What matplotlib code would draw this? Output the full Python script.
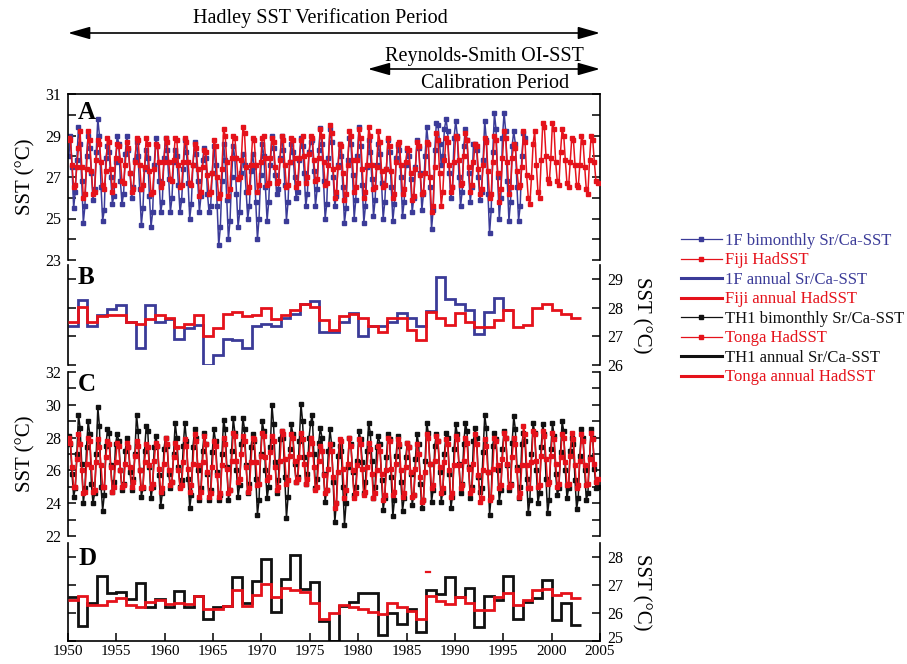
import numpy as np
import matplotlib
matplotlib.use("Agg")
import matplotlib.pyplot as plt
import matplotlib.transforms as mtransforms
from matplotlib.lines import Line2D

plt.rcParams['font.family'] = ['Liberation Serif', 'DejaVu Serif']

BLUE = '#3b3b98'
RED = '#e5121b'
BLACK = '#111111'

START_YEAR = 1950

# ---- Bimonthly SST (6 values per year, Jan-Feb ... Nov-Dec) ----
coral_1f_bimonthly = [
    [28.0, 29.0, 27.5, 25.5, 26.3, 27.8],
    [29.4, 28.6, 26.8, 24.8, 25.6, 28.0],
    [29.0, 28.4, 27.2, 25.9, 26.4, 28.2],
    [29.8, 29.0, 26.5, 24.9, 25.4, 27.9],
    [28.5, 28.2, 27.0, 25.7, 26.1, 27.7],
    [29.0, 28.6, 26.8, 25.7, 26.2, 28.1],
    [29.0, 28.3, 27.2, 26.0, 26.5, 27.8],
    [28.7, 28.0, 26.4, 24.7, 25.5, 27.4],
    [28.3, 27.9, 26.1, 24.6, 25.3, 27.6],
    [28.9, 28.5, 26.8, 25.3, 25.8, 27.9],
    [28.9, 28.3, 26.9, 25.3, 26.0, 27.7],
    [28.3, 28.0, 26.6, 25.3, 25.9, 27.4],
    [28.8, 28.2, 26.7, 25.0, 25.7, 27.6],
    [28.7, 28.1, 26.8, 25.3, 26.1, 27.8],
    [28.4, 27.9, 26.2, 25.3, 25.6, 27.2],
    [28.5, 27.6, 25.6, 23.7, 24.6, 26.8],
    [28.6, 27.8, 25.9, 24.0, 24.9, 27.0],
    [28.5, 27.9, 26.2, 24.6, 25.3, 27.2],
    [28.1, 27.6, 26.3, 25.0, 25.6, 27.3],
    [28.1, 27.5, 25.8, 24.0, 25.0, 27.1],
    [28.6, 28.0, 26.5, 24.9, 25.8, 27.6],
    [29.0, 28.4, 27.1, 26.2, 26.4, 27.9],
    [29.0, 28.3, 26.6, 24.9, 25.8, 27.7],
    [28.6, 28.2, 27.0, 26.0, 26.3, 27.8],
    [28.9, 28.5, 27.2, 25.6, 26.2, 28.2],
    [28.7, 28.8, 27.3, 25.6, 26.4, 28.3],
    [29.35, 28.6, 26.8, 25.0, 25.7, 27.9],
    [29.3, 28.7, 27.0, 25.6, 26.1, 27.6],
    [28.6, 28.0, 26.5, 24.8, 25.5, 27.8],
    [28.9, 28.6, 27.1, 25.0, 25.9, 28.0],
    [29.4, 28.5, 26.6, 24.8, 25.6, 27.5],
    [28.8, 28.2, 26.9, 25.1, 25.9, 27.6],
    [28.6, 28.1, 26.7, 25.0, 25.8, 27.4],
    [28.8, 28.2, 26.5, 24.9, 25.7, 27.9],
    [28.5, 28.3, 27.0, 25.1, 25.8, 27.6],
    [28.3, 28.0, 26.9, 25.3, 26.0, 27.5],
    [28.8, 28.4, 27.2, 25.4, 26.2, 28.0],
    [29.4, 28.6, 26.5, 24.5, 25.4, 28.3],
    [29.6, 29.5, 28.6, 27.6, 28.0, 29.3],
    [29.8, 29.2, 27.2, 26.0, 26.5, 28.9],
    [29.7, 29.0, 27.0, 25.6, 26.3, 28.5],
    [29.3, 28.8, 27.2, 25.8, 26.5, 28.6],
    [28.6, 28.3, 27.0, 25.9, 26.3, 27.8],
    [29.7, 28.8, 26.2, 24.3, 25.4, 28.2],
    [30.1, 29.3, 27.0, 25.0, 26.0, 28.9],
    [30.1, 29.2, 26.8, 24.9, 25.8, 28.5],
    [29.2, 28.6, 26.5, 24.9, 25.6, 28.0],
    [29.1, 28.9],
]

fiji_hadsst = [
    [28.9, 28.8, 27.6, 26.5, 26.6, 27.5],
    [28.4, 29.2, 27.5, 26.0, 26.2, 27.4],
    [29.2, 28.8, 27.3, 26.2, 26.3, 27.8],
    [28.8, 28.6, 27.7, 26.6, 26.4, 27.3],
    [28.9, 28.7, 27.4, 26.3, 26.6, 27.9],
    [28.6, 28.5, 27.8, 26.8, 26.7, 27.6],
    [28.7, 28.4, 27.2, 26.3, 26.4, 27.7],
    [28.9, 28.8, 27.6, 26.4, 26.6, 27.5],
    [28.9, 28.6, 27.3, 26.2, 26.3, 27.4],
    [28.6, 28.5, 27.7, 26.5, 26.7, 27.7],
    [28.9, 28.7, 27.7, 26.9, 26.8, 27.8],
    [28.9, 28.8, 27.6, 26.5, 26.6, 27.7],
    [28.9, 28.7, 27.7, 26.7, 26.6, 27.6],
    [28.6, 28.4, 27.4, 26.1, 26.3, 27.5],
    [28.3, 28.2, 27.1, 26.2, 26.3, 27.2],
    [28.8, 28.5, 27.0, 26.0, 26.2, 27.4],
    [29.3, 29.0, 27.7, 26.1, 26.4, 27.9],
    [29.0, 28.9, 27.9, 26.9, 27.0, 27.8],
    [29.4, 29.1, 27.5, 26.3, 26.5, 27.6],
    [28.9, 28.8, 27.6, 26.3, 26.6, 27.7],
    [28.9, 29.0, 27.9, 26.6, 26.7, 27.9],
    [28.9, 28.7, 27.5, 26.7, 26.8, 27.8],
    [29.0, 28.8, 27.6, 26.5, 26.6, 27.7],
    [28.9, 28.8, 27.9, 26.5, 26.7, 27.9],
    [28.8, 29.0, 28.0, 26.7, 27.0, 28.1],
    [29.0, 28.9, 27.8, 26.8, 26.9, 27.9],
    [29.3, 29.0, 27.7, 26.6, 26.7, 27.6],
    [29.5, 29.1, 27.4, 26.0, 26.3, 27.5],
    [28.6, 28.5, 27.2, 25.9, 26.2, 27.6],
    [29.2, 29.0, 27.8, 26.3, 26.5, 27.8],
    [29.3, 28.9, 27.4, 26.0, 26.3, 27.6],
    [29.4, 29.0, 27.6, 26.4, 26.5, 27.5],
    [29.2, 28.7, 27.3, 26.5, 26.6, 27.4],
    [28.9, 28.5, 27.3, 26.0, 26.2, 27.7],
    [28.6, 28.7, 27.6, 26.2, 26.4, 27.7],
    [28.4, 28.3, 27.2, 25.9, 26.1, 27.4],
    [28.7, 28.5, 27.1, 26.2, 26.3, 27.2],
    [28.7, 28.6, 27.0, 25.3, 25.6, 27.5],
    [29.1, 28.8, 27.2, 25.6, 26.3, 27.8],
    [28.9, 28.7, 27.6, 26.3, 26.5, 27.7],
    [29.0, 28.9, 27.8, 26.6, 26.7, 28.0],
    [29.1, 28.8, 27.5, 26.3, 26.6, 27.7],
    [28.6, 28.5, 27.4, 26.2, 26.4, 27.6],
    [28.9, 28.7, 27.3, 26.0, 26.2, 27.7],
    [29.0, 28.8, 27.2, 25.8, 26.4, 27.9],
    [29.2, 28.9, 27.7, 26.2, 26.5, 27.9],
    [28.6, 28.4, 27.3, 26.5, 26.6, 27.5],
    [29.2, 28.7, 27.1, 26.0, 25.7, 27.0],
    [28.6, 29.2, 27.6, 26.3, 26.0, 27.8],
    [29.6, 29.4, 28.0, 26.9, 26.7, 27.9],
    [29.6, 29.3, 27.7, 26.8, 26.6, 28.2],
    [29.3, 29.0, 27.8, 26.7, 26.5, 27.7],
    [28.9, 28.8, 27.6, 26.6, 26.5, 27.6],
    [29.0, 28.7, 27.5, 26.4, 26.2, 27.8],
    [29.0, 28.8, 27.7, 26.8, 26.7],
]

th1_bimonthly = [
    [28.1, 27.6, 25.8, 24.4, 24.9, 27.0],
    [29.4, 28.6, 26.4, 24.0, 24.9, 27.4],
    [29.0, 28.2, 25.2, 24.0, 24.6, 27.0],
    [29.85, 28.7, 25.0, 23.55, 24.5, 27.5],
    [28.5, 28.3, 26.3, 24.7, 25.3, 27.6],
    [28.2, 27.8, 26.0, 24.8, 25.2, 27.2],
    [28.0, 27.4, 25.9, 24.8, 25.5, 27.0],
    [29.4, 28.4, 26.0, 24.4, 24.9, 27.2],
    [28.7, 28.4, 26.2, 24.3, 25.0, 27.4],
    [28.1, 27.5, 25.7, 23.8, 24.6, 27.3],
    [28.0, 27.5, 25.8, 24.9, 25.3, 27.0],
    [28.9, 28.0, 26.2, 25.0, 25.4, 27.5],
    [28.9, 27.8, 25.5, 23.7, 24.5, 27.4],
    [28.5, 28.0, 26.0, 24.2, 24.9, 27.2],
    [28.3, 27.6, 25.8, 24.2, 24.8, 27.1],
    [28.5, 27.8, 25.9, 24.2, 24.5, 27.0],
    [29.1, 28.5, 26.2, 24.2, 24.8, 27.2],
    [29.2, 28.3, 26.0, 24.4, 25.1, 27.6],
    [29.2, 28.5, 26.3, 24.6, 25.2, 27.4],
    [28.2, 27.8, 25.5, 23.3, 24.2, 27.0],
    [29.0, 28.4, 26.0, 24.3, 25.0, 27.4],
    [30.0, 28.8, 26.5, 24.6, 25.4, 27.9],
    [28.4, 28.0, 25.6, 23.1, 24.4, 27.3],
    [28.8, 28.2, 26.4, 25.3, 25.6, 27.8],
    [30.05, 29.0, 26.8, 25.2, 25.8, 28.0],
    [28.9, 29.4, 27.0, 24.9, 25.5, 27.7],
    [28.6, 28.0, 25.8, 24.1, 24.8, 27.2],
    [28.5, 27.6, 25.3, 22.85, 24.0, 26.9],
    [27.5, 27.2, 25.0, 22.7, 24.0, 26.2],
    [28.0, 27.6, 25.9, 24.5, 25.0, 26.6],
    [28.4, 27.9, 26.5, 24.6, 25.3, 27.2],
    [28.9, 28.3, 26.6, 24.3, 25.0, 27.4],
    [28.1, 27.6, 25.4, 23.6, 24.3, 26.8],
    [28.2, 27.9, 25.6, 23.2, 24.2, 26.9],
    [28.1, 27.5, 25.3, 23.55, 24.3, 26.8],
    [27.7, 27.4, 25.8, 23.9, 24.5, 26.7],
    [28.2, 27.6, 25.2, 23.7, 24.2, 26.6],
    [28.9, 28.3, 26.4, 24.1, 24.8, 27.5],
    [28.2, 27.8, 25.9, 24.1, 24.7, 27.0],
    [28.3, 28.0, 25.8, 23.7, 24.4, 27.3],
    [28.8, 28.2, 26.4, 24.6, 25.2, 27.6],
    [28.9, 28.4, 26.2, 24.3, 25.0, 27.8],
    [28.6, 28.0, 25.6, 24.7, 24.9, 27.1],
    [29.35, 28.6, 25.9, 23.3, 24.4, 27.5],
    [28.3, 27.9, 26.0, 24.1, 24.8, 27.3],
    [28.4, 28.0, 26.3, 24.8, 25.2, 27.7],
    [29.3, 28.5, 26.2, 24.3, 25.0, 27.6],
    [28.3, 27.8, 25.5, 23.4, 24.2, 27.0],
    [28.9, 28.3, 26.0, 24.0, 24.6, 27.4],
    [28.8, 28.2, 25.5, 23.4, 24.2, 27.3],
    [28.9, 28.1, 25.8, 24.5, 24.9, 27.1],
    [29.0, 28.4, 26.0, 24.3, 24.9, 27.2],
    [28.0, 27.6, 25.4, 23.65, 24.3, 26.9],
    [28.5, 28.0, 26.0, 24.2, 24.6, 26.8],
    [28.5, 28.0, 26.1, 24.9, 25.0],
]

tonga_hadsst = [
    [28.0, 27.7, 26.2, 25.0, 25.0, 26.7],
    [28.2, 27.6, 26.0, 24.6, 24.7, 26.4],
    [28.0, 27.8, 26.2, 24.7, 24.8, 26.5],
    [27.9, 27.4, 26.3, 25.0, 25.0, 26.8],
    [27.8, 27.6, 26.2, 24.7, 25.0, 26.5],
    [27.7, 27.5, 26.0, 25.0, 25.1, 26.4],
    [27.7, 27.4, 26.2, 25.0, 25.3, 26.9],
    [27.8, 27.5, 26.0, 24.9, 25.0, 26.5],
    [27.6, 27.4, 26.3, 24.9, 25.2, 26.6],
    [27.7, 27.5, 26.1, 24.7, 24.9, 26.4],
    [28.0, 27.6, 26.0, 25.1, 25.3, 26.8],
    [27.7, 27.4, 26.0, 24.9, 25.1, 26.5],
    [27.9, 27.5, 26.1, 24.7, 25.1, 26.4],
    [28.2, 27.8, 26.3, 24.4, 24.7, 26.5],
    [28.1, 27.6, 25.9, 24.4, 24.6, 26.2],
    [27.8, 27.5, 25.7, 24.4, 24.6, 26.3],
    [28.0, 27.6, 26.1, 24.6, 24.8, 26.6],
    [28.3, 28.1, 26.6, 25.3, 25.5, 27.0],
    [28.1, 27.8, 26.2, 24.7, 24.9, 26.5],
    [28.0, 27.9, 26.5, 25.1, 25.2, 26.9],
    [28.3, 28.1, 26.8, 25.4, 25.6, 27.1],
    [28.1, 27.8, 26.2, 24.8, 25.0, 26.6],
    [28.4, 28.2, 26.7, 25.2, 25.4, 26.9],
    [28.2, 28.0, 26.6, 25.3, 25.5, 26.8],
    [28.3, 27.9, 26.4, 25.2, 25.5, 27.0],
    [28.0, 27.7, 26.2, 24.8, 25.0, 26.6],
    [27.5, 27.2, 25.7, 24.6, 24.8, 26.1],
    [27.6, 27.2, 25.6, 23.7, 24.0, 25.9],
    [27.9, 27.8, 26.1, 24.3, 24.8, 26.4],
    [28.0, 27.5, 26.0, 24.3, 24.6, 26.3],
    [27.9, 27.6, 26.1, 24.5, 24.7, 26.2],
    [27.7, 27.3, 25.8, 24.3, 24.6, 26.0],
    [27.5, 27.2, 25.8, 24.2, 24.5, 26.0],
    [28.0, 27.8, 26.1, 24.5, 24.7, 26.4],
    [27.9, 27.6, 26.0, 24.4, 24.6, 26.2],
    [27.7, 27.4, 25.9, 24.4, 24.5, 26.1],
    [27.6, 27.0, 25.6, 24.1, 24.2, 25.9],
    [28.2, 28.0, 26.4, 24.9, 25.1, 26.6],
    [28.1, 27.8, 26.2, 24.6, 24.9, 26.5],
    [27.9, 27.6, 26.0, 24.4, 24.6, 26.3],
    [28.1, 27.9, 26.3, 24.9, 25.1, 26.6],
    [28.0, 27.7, 26.1, 24.6, 24.8, 26.4],
    [28.2, 27.6, 25.7, 24.1, 24.3, 26.0],
    [27.9, 27.5, 25.9, 24.2, 24.4, 26.1],
    [28.0, 27.8, 26.3, 24.9, 25.1, 26.7],
    [28.3, 28.0, 26.4, 25.0, 25.1, 26.8],
    [28.0, 27.6, 26.0, 24.4, 24.6, 26.3],
    [28.7, 28.2, 26.3, 24.9, 24.9, 26.5],
    [28.4, 28.2, 26.6, 25.0, 25.1, 26.9],
    [28.4, 28.1, 26.7, 25.2, 25.3, 26.9],
    [28.3, 27.9, 26.4, 25.0, 25.2, 26.8],
    [28.2, 28.0, 26.5, 25.1, 25.2, 26.9],
    [28.3, 27.9, 26.3, 24.9, 25.1, 26.6],
    [28.2, 27.8, 26.3, 25.1, 25.2, 26.7],
    [28.3, 27.9, 26.4, 25.3, 25.5],
]

# ---- Annual means (one value per calendar year from 1950) ----
coral_1f_annual = [27.35, 28.28, 27.35, 27.75, 27.95, 28.1, 27.5, 26.6, 28.1, 27.5,
                   27.6, 26.9, 27.3, 27.4, 26.0, 26.35, 26.9, 26.87, 26.6, 27.35,
                   27.45, 27.35, 27.66, 27.8, 28.15, 28.25, 27.16, 27.16, 27.5, 27.83,
                   27.0, 27.35, 27.35, 27.5, 27.83, 27.66, 27.35, 27.9, 29.08, 28.3,
                   28.15, 27.94, 27.1, 27.86, 28.36, 27.94]

fiji_annual = [27.5, 28.04, 27.5, 27.7, 27.75, 27.75, 27.5, 27.45, 27.6, 27.75,
               27.63, 27.33, 27.43, 27.75, 27.0, 27.28, 27.8, 27.86, 27.7, 27.75,
               27.98, 27.6, 27.75, 27.92, 28.15, 28.04, 27.58, 27.22, 27.7, 27.78,
               27.63, 27.36, 27.16, 27.63, 27.63, 27.22, 26.87, 27.86, 27.63, 27.4,
               27.83, 27.5, 27.33, 27.33, 27.58, 27.92, 27.33, 27.4, 27.98, 28.13,
               27.94, 27.8, 27.65]

th1_annual = [26.58, 25.53, 26.34, 27.32, 26.72, 26.75, 26.5, 27.07, 26.22, 26.5,
              26.22, 26.8, 26.22, 26.6, 25.8, 26.22, 26.25, 27.29, 26.34, 27.15,
              27.94, 26.04, 27.23, 28.06, 26.84, 27.1, 25.7, 25.0, 26.25, 26.4,
              26.72, 26.72, 25.2, 26.0, 25.6, 26.16, 25.33, 26.81, 26.67, 27.29,
              26.58, 26.91, 25.49, 26.6, 26.46, 27.32, 25.8, 26.4, 26.52, 27.19,
              25.75, 26.36, 25.57]

tonga_annual = [26.46, 26.61, 26.27, 26.27, 26.43, 26.52, 26.27, 26.22, 26.4, 26.46,
                26.32, 26.36, 26.32, 26.61, 26.14, 26.16, 26.24, 26.81, 26.24, 26.64,
                27.03, 26.58, 26.91, 26.81, 26.75, 26.36, 25.77, 26.0, 26.28, 26.22,
                26.14, 26.04, 25.95, 26.36, 26.2, 26.08, 25.77, 26.61, 26.43, 26.32,
                26.58, 26.36, 26.1, 26.1, 26.58, 26.7, 26.28, 26.48, 26.81, 26.85,
                26.64, 26.7, 26.52]

# stray short red mark in panel D (year span, SST)
tonga_mark_years = [1987.0, 1987.4]
tonga_mark_sst = 27.45

year_ticks = list(range(1950, 2006, 5))
a_major = [23, 25, 27, 29, 31]
a_minor = [24, 26, 28, 30]
b_ticks = [26, 27, 28, 29]
c_major = [22, 24, 26, 28, 30, 32]
c_minor = [23, 25, 27, 29, 31]
d_ticks = [25, 26, 27, 28]
hadley_period = (1950, 2005)
calibration_period = (1981, 2005)

legend_labels = ['1F bimonthly Sr/Ca-SST', 'Fiji HadSST', '1F annual Sr/Ca-SST',
                 'Fiji annual HadSST', 'TH1 bimonthly Sr/Ca-SST', 'Tonga HadSST',
                 'TH1 annual Sr/Ca-SST', 'Tonga annual HadSST']


def bimonthly_series(rows):
    t, v = [], []
    for i, row in enumerate(rows):
        for k, val in enumerate(row):
            t.append(START_YEAR + i + (k + 0.5) / 6.0)
            v.append(val)
    return np.array(t), np.array(v)


def annual_edges(values):
    return np.arange(START_YEAR, START_YEAR + len(values) + 1)


W, H = 907, 664
fig = plt.figure(figsize=(W / 100, H / 100), dpi=100)


def axes_px(left, top, right, bottom):
    return fig.add_axes([left / W, 1 - bottom / H, (right - left) / W, (bottom - top) / H])


ax_a = axes_px(68, 94, 600, 260)
ax_b = axes_px(68, 265, 600, 365)
ax_c = axes_px(68, 372, 600, 536)
ax_d = axes_px(68, 543, 600, 641)

TICK_FS = 11.5
LABEL_FS = 15

for ax in (ax_a, ax_b, ax_c, ax_d):
    ax.set_xlim(1950, 2005)
    for side in ('top', 'bottom'):
        ax.spines[side].set_visible(False)
    for side in ('left', 'right', 'top', 'bottom'):
        ax.spines[side].set_linewidth(1.2)
    ax.tick_params(axis='y', which='both', direction='in', left=True, right=True,
                   width=1.1, length=6, labelsize=TICK_FS, pad=5)
    ax.tick_params(axis='x', which='both', bottom=False, top=False, labelbottom=False)
    ax.patch.set_alpha(0)

# Panel A: 1F Sr/Ca-SST vs Fiji HadSST (bimonthly)
t, v = bimonthly_series(coral_1f_bimonthly)
ax_a.plot(t, v, color=BLUE, lw=1.1, marker='s', ms=2.8, zorder=2)
t, v = bimonthly_series(fiji_hadsst)
ax_a.plot(t, v, color=RED, lw=1.1, marker='s', ms=3.3, zorder=3)
ax_a.spines['top'].set_visible(True)
ax_a.set_ylim(23, 31)
ax_a.set_yticks(a_major)
ax_a.set_yticks(a_minor, minor=True)

# Panel B: annual means
ax_b.stairs(coral_1f_annual, annual_edges(coral_1f_annual), baseline=None, color=BLUE, lw=2.0, zorder=2)
ax_b.stairs(fiji_annual, annual_edges(fiji_annual), baseline=None, color=RED, lw=2.0, zorder=3)
ax_b.set_ylim(26, 29.5)
ax_b.set_yticks(b_ticks)
ax_b.tick_params(axis='y', labelleft=False, labelright=True)

# Panel C: TH1 Sr/Ca-SST vs Tonga HadSST (bimonthly)
t, v = bimonthly_series(th1_bimonthly)
ax_c.plot(t, v, color=BLACK, lw=1.1, marker='s', ms=2.8, zorder=2)
t, v = bimonthly_series(tonga_hadsst)
ax_c.plot(t, v, color=RED, lw=1.1, marker='s', ms=3.3, zorder=3)
ax_c.set_ylim(22, 32)
ax_c.set_yticks(c_major)
ax_c.set_yticks(c_minor, minor=True)

# Panel D: annual means
ax_d.stairs(th1_annual, annual_edges(th1_annual), baseline=None, color=BLACK, lw=2.0, zorder=2)
ax_d.stairs(tonga_annual, annual_edges(tonga_annual), baseline=None, color=RED, lw=2.0, zorder=3)
ax_d.plot(tonga_mark_years, [tonga_mark_sst] * 2, color=RED, lw=1.6, zorder=3)
ax_d.set_ylim(25, 28.5)
ax_d.set_yticks(d_ticks)
ax_d.tick_params(axis='y', labelleft=False, labelright=True)
ax_d.spines['bottom'].set_visible(True)
ax_d.set_xticks(year_ticks)
ax_d.tick_params(axis='x', which='major', bottom=True, labelbottom=True, direction='in',
                 length=6, width=1.1, labelsize=11, pad=3)

# Axis titles
for ax in (ax_a, ax_c):
    ax.set_ylabel('SST (°C)', fontsize=LABEL_FS)
    ax.yaxis.set_label_coords(-0.062, 0.5)
for ax in (ax_b, ax_d):
    ax.yaxis.set_label_position('right')
    ax.set_ylabel('SST (°C)', fontsize=LABEL_FS, rotation=-90, va='center', ha='center')
    ax.yaxis.set_label_coords(1.077, 0.5)

# Panel letters
for ax, letter, ytop in ((ax_a, 'A', 0.96), (ax_b, 'B', 0.99), (ax_c, 'C', 0.995), (ax_d, 'D', 0.955)):
    ax.text(0.019, ytop, letter, transform=ax.transAxes, ha='left', va='top',
            fontsize=18, fontweight='bold')

# Period arrows and titles
arrow_kw = dict(arrowstyle='<|-|>,head_length=0.95,head_width=0.27', color='black',
                lw=1.2, shrinkA=0, shrinkB=0, mutation_scale=14)
ax_a.annotate('', xy=(hadley_period[1], 1 - 33 / H), xytext=(hadley_period[0], 1 - 33 / H),
              xycoords=('data', 'figure fraction'), textcoords=('data', 'figure fraction'),
              arrowprops=arrow_kw, annotation_clip=False)
ax_a.annotate('', xy=(calibration_period[1], 1 - 69 / H), xytext=(calibration_period[0], 1 - 69 / H),
              xycoords=('data', 'figure fraction'), textcoords=('data', 'figure fraction'),
              arrowprops=arrow_kw, annotation_clip=False)
fig.text(320 / W, 1 - 18 / H, 'Hadley SST Verification Period', ha='center', va='center', fontsize=14.5)
fig.text(484 / W, 1 - 57 / H, 'Reynolds-Smith OI-SST', ha='center', va='center', fontsize=14.5)
fig.text(495 / W, 1 - 83 / H, 'Calibration Period', ha='center', va='center', fontsize=14.5)

# Legend
handles = [
    Line2D([], [], color=BLUE, lw=0.9, marker='s', ms=2.5),
    Line2D([], [], color=RED, lw=0.9, marker='s', ms=3),
    Line2D([], [], color=BLUE, lw=2.2),
    Line2D([], [], color=RED, lw=2.2),
    Line2D([], [], color=BLACK, lw=0.9, marker='s', ms=2.5),
    Line2D([], [], color=RED, lw=0.9, marker='s', ms=3),
    Line2D([], [], color=BLACK, lw=2.2),
    Line2D([], [], color=RED, lw=2.2),
]
fig.legend(handles, legend_labels, loc='upper left', bbox_to_anchor=(681 / W, 1 - 233 / H),
           frameon=False, fontsize=12, handlelength=2.45, handletextpad=0.2,
           labelspacing=0.21, borderpad=0, borderaxespad=0,
           labelcolor=[BLUE, RED, BLUE, RED, BLACK, RED, BLACK, RED])

# lift the lowest right-hand label of panel D clear of the year labels
low_label = ax_d.yaxis.get_major_ticks()[0].label2
low_label.set_transform(low_label.get_transform()
                        + mtransforms.ScaledTranslation(0, 3 / 72, fig.dpi_scale_trans))

fig.savefig('out.png', dpi=100)
